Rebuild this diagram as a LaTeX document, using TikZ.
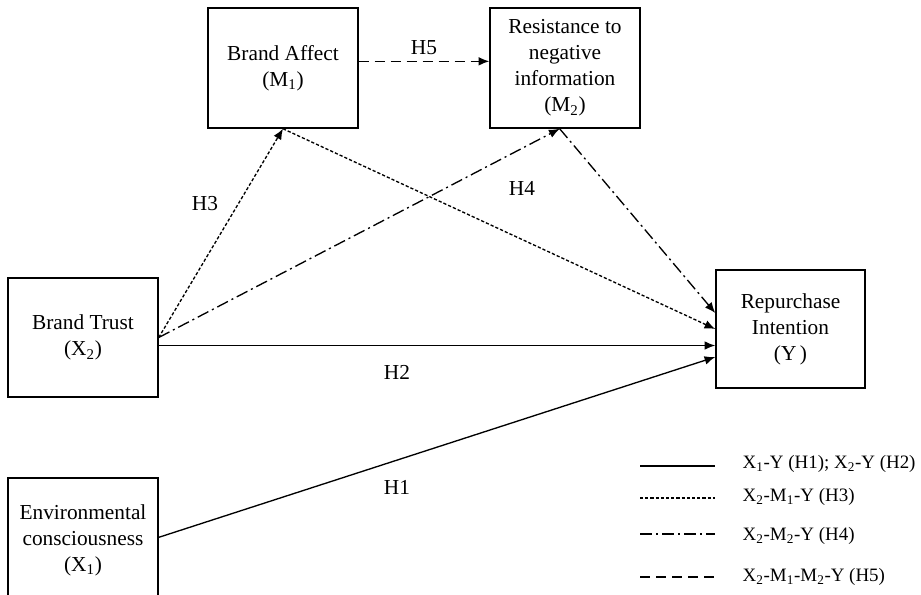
\documentclass[tikz,border=0pt]{standalone}
\usepackage{fontspec}
\setmainfont{Liberation Serif}
\usetikzlibrary{arrows.meta}
\tikzset{
  var/.style={draw, line width=1.1pt, align=center, inner sep=2pt,
    minimum width=112.5pt, font=\fontsize{16}{19.5}\selectfont},
  hyp/.style={font=\fontsize{16}{18}\selectfont},
  leg/.style={anchor=west, font=\fontsize{14.2}{17}\selectfont},
  path/.style={line width=1pt, -{Latex[length=8pt,width=6.5pt]}},
  direct/.style={line width=1pt},
  dotline/.style={dash pattern=on 2.4pt off 1.5pt},
  dashdotline/.style={dash pattern=on 9pt off 3pt on 1.5pt off 3pt},
  dashline/.style={dash pattern=on 7.5pt off 4.5pt}
}
\newcommand{\sub}[1]{\textsubscript{#1}}

\begin{document}
\begin{tikzpicture}[x=0.75pt,y=-0.75pt]
\useasboundingbox (0,0) rectangle (921,594);
% variables
\node[var, minimum height=90pt] (ba) at (283,68) {Brand Affect\\(M\sub{1})};
\node[var, minimum height=90pt] (rn) at (565,68) {Resistance to\\negative\\information\\(M\sub{2})};
\node[var, minimum height=89pt] (bt) at (83,337.5) {Brand Trust\\(X\sub{2})};
\node[var, minimum height=93pt] (ec) at (83,540) {Environmental\\consciousness\\(X\sub{1})};
\node[var, minimum width=111.75pt, minimum height=88.5pt] (y) at (790.5,329) {Repurchase\\Intention\\(Y\,)};
% paths
\draw[path] ([yshift=-6pt]bt.east) -- ([yshift=-6pt]bt.east -| y.west);
\draw[path] ([yshift=2pt]ec.east) -- ([yshift=-21pt]y.west);
\draw[path, dotline] (bt.east) -- (ba.south);
\draw[path, dashdotline] (bt.east) -- ([xshift=-4pt]rn.south);
\draw[path, dotline] (ba.south) -- (y.west);
\draw[path, dashdotline] ([xshift=-4pt]rn.south) -- ([yshift=12pt]y.west);
\draw[path, dashline] ([yshift=5pt]ba.east) -- ([yshift=5pt]rn.west);
% labels
\node[hyp] (h5) at (424,48) {H5};
\node[hyp] (h3) at (205,204) {H3};
\node[hyp] (h4) at (522,188) {H4};
\node[hyp] (h2) at (397,372) {H2};
\node[hyp] (h1) at (397,487) {H1};
% legend
\node[leg] (l1) at (738,464) {X\sub{1}-Y (H1); X\sub{2}-Y (H2)};
\node[leg] (l2) at (738,497) {X\sub{2}-M\sub{1}-Y (H3)};
\node[leg] (l3) at (738,536) {X\sub{2}-M\sub{2}-Y (H4)};
\node[leg] (l4) at (738,577) {X\sub{2}-M\sub{1}-M\sub{2}-Y (H5)};
\draw[direct] (640,466) -- (715,466);
\draw[direct, dotline] (640,498) -- (715,498);
\draw[direct, dashdotline] (640,534) -- (715,534);
\draw[direct, dashline] (640,577) -- (715,577);
\end{tikzpicture}
\end{document}
